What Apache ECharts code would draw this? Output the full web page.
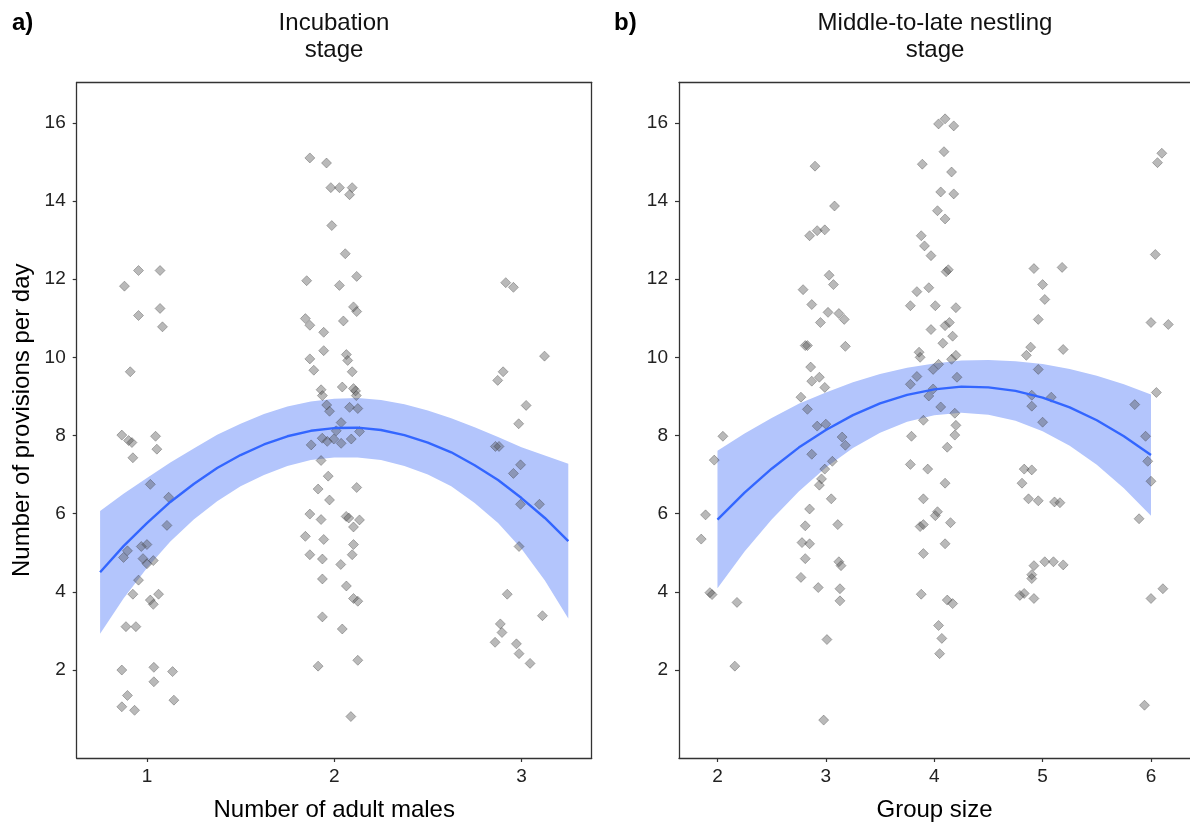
<!DOCTYPE html>
<html>
<head>
<meta charset="utf-8">
<script src="https://cdn.jsdelivr.net/npm/echarts@6/dist/echarts.min.js"></script>
<style>
  html, body { margin: 0; padding: 0; background: #fff; }
  #chart { width: 1190px; height: 827px; }
</style>
</head>
<body>
<div id="chart"></div>
<script>
// Tick values shared by the two panels
const yTicks = [2, 4, 6, 8, 10, 12, 14, 16];
const xTicksA = [1, 2, 3];
const xTicksB = [2, 3, 4, 5, 6];

// Panel a) observations: [number of adult males (jittered), provisions per day]
const incubationPoints = [
  [0.955,12.22],[1.070,12.22],[0.880,11.82],[0.955,11.07],[1.070,11.25],[1.083,10.78],[0.911,9.63],
  [0.866,8.01],[0.902,7.87],[0.920,7.82],[1.046,7.98],[1.053,7.65],[0.925,7.43],[1.018,6.75],[1.116,6.42],
  [1.107,5.70],[0.896,5.05],[0.875,4.88],[0.970,5.16],[1.000,5.21],[0.979,4.85],[1.000,4.72],[1.034,4.80],
  [0.955,4.30],[0.925,3.94],[1.018,3.79],[1.034,3.68],[1.062,3.94],[0.888,3.11],[0.941,3.11],[0.866,2.00],
  [1.037,2.07],[1.037,1.70],[1.137,1.96],[0.896,1.35],[0.866,1.06],[0.934,0.97],[1.144,1.23],
  [1.870,15.10],[1.959,14.97],[1.982,14.34],[1.987,13.37],[1.853,11.96],[1.846,10.99],[1.870,10.82],
  [1.944,10.64],[1.944,10.17],[1.870,9.96],[1.891,9.67],[1.930,9.17],[1.937,9.02],[1.960,8.78],[1.975,8.62],
  [2.028,14.34],[2.096,14.34],[2.082,14.16],[2.059,12.65],[2.120,12.07],[2.028,11.84],[2.103,11.29],
  [2.120,11.17],[2.049,10.93],[2.065,10.07],[2.072,9.92],[2.096,9.63],[2.043,9.24],[2.103,9.20],[2.114,9.14],
  [2.118,9.02],[2.082,8.72],[2.126,8.69],[2.037,8.33],
  [1.877,7.76],[1.936,7.93],[1.963,7.85],[1.998,7.91],[1.930,7.36],[1.968,6.96],[1.914,6.63],[1.975,6.35],
  [1.870,5.99],[1.930,5.85],[1.846,5.42],[1.944,5.34],[1.870,4.95],[1.937,4.84],[1.937,4.33],[1.937,3.36],
  [1.914,2.10],[2.011,8.12],[2.037,7.80],[2.091,7.91],[2.135,8.10],[2.120,6.67],[2.064,5.93],[2.078,5.89],
  [2.135,5.84],[2.103,5.66],[2.103,5.21],[2.096,4.95],[2.035,4.70],[2.065,4.15],[2.103,3.83],[2.126,3.76],
  [2.043,3.05],[2.126,2.25],[2.089,0.81],
  [2.916,11.91],[2.957,11.79],[3.123,10.03],[2.902,9.63],[2.873,9.41],[3.025,8.77],[2.985,8.30],[2.861,7.72],
  [2.880,7.72],[2.995,7.25],[2.957,7.03],[3.096,6.24],[2.995,6.24],[2.987,5.16],[2.924,3.94],[3.112,3.39],
  [2.887,3.18],[2.896,2.96],[2.859,2.71],[2.973,2.67],[2.987,2.42],[3.046,2.17]
];

// Panel b) observations: [group size (jittered), provisions per day]
const nestlingPoints = [
  [1.85,5.35],[1.89,5.97],[1.95,3.93],[1.93,3.98],[1.97,7.37],[2.05,7.98],[2.16,2.10],[2.18,3.73],
  [2.90,14.89],[3.08,13.87],[2.85,13.11],[2.92,13.24],[2.99,13.26],[2.79,11.73],[2.87,11.35],[3.03,12.10],
  [3.07,11.86],[3.02,11.15],[3.12,11.12],[3.17,10.97],[2.95,10.89],[2.83,10.30],[2.81,10.30],[3.18,10.28],
  [2.86,9.75],[2.87,9.39],[2.94,9.49],[2.99,9.23],[2.77,8.98],[2.83,8.67],[2.92,8.24],[3.00,8.29],
  [3.15,7.96],[2.87,7.52],[2.99,7.14],[3.06,7.34],[3.18,7.75],[2.96,6.89],[2.94,6.73],[2.85,6.12],
  [3.05,6.38],[3.11,5.72],[2.81,5.69],[2.78,5.26],[2.85,5.23],[2.81,4.85],[3.12,4.77],[3.14,4.67],
  [2.77,4.37],[2.93,4.11],[3.13,4.08],[3.13,3.77],[3.01,2.78],[2.98,0.72],
  [4.04,15.97],[4.10,16.10],[4.18,15.92],[4.09,15.26],[3.89,14.94],[4.16,14.74],[4.06,14.23],[4.18,14.18],
  [4.03,13.75],[4.10,13.54],[3.88,13.11],[3.91,12.85],[3.97,12.60],[4.13,12.24],[4.11,12.19],[3.95,11.78],
  [3.84,11.68],[4.01,11.32],[3.78,11.32],[4.20,11.27],[4.14,10.89],[3.97,10.71],[4.10,10.81],[4.08,10.36],
  [4.17,10.54],[3.86,10.13],[3.87,10.00],[4.04,9.82],[4.16,9.95],[4.20,10.05],[3.99,9.69],[3.84,9.51],
  [4.21,9.49],[3.99,9.19],[3.78,9.31],[3.95,9.01],[4.06,8.73],[4.19,8.57],[3.90,8.39],[4.20,8.26],
  [4.19,8.01],[3.79,7.98],[4.12,7.70],[3.78,7.26],[3.94,7.14],[4.10,6.78],[3.90,6.38],[4.03,6.05],
  [4.01,5.95],[3.87,5.67],[3.90,5.72],[4.15,5.77],[4.10,5.23],[3.90,4.98],[3.88,3.94],[4.12,3.79],
  [4.17,3.70],[4.04,3.14],[4.07,2.81],[4.05,2.42],
  [4.92,12.27],[5.18,12.30],[5.00,11.86],[5.02,11.48],[4.96,10.97],[4.85,10.05],[4.89,10.26],[5.19,10.20],
  [4.96,9.69],[4.90,9.03],[5.08,8.98],[4.90,8.75],[5.00,8.34],[4.83,7.14],[4.90,7.12],[4.81,6.78],
  [4.87,6.38],[4.96,6.33],[5.11,6.30],[5.16,6.28],[4.92,4.67],[5.02,4.77],[5.10,4.77],[5.19,4.69],
  [4.90,4.44],[4.90,4.34],[4.83,3.96],[4.79,3.91],[4.92,3.83],
  [6.10,15.22],[6.06,14.98],[6.04,12.63],[6.00,10.89],[6.16,10.84],[6.05,9.10],[5.85,8.79],[5.95,7.98],
  [5.97,7.34],[6.00,6.83],[5.89,5.87],[6.11,4.08],[6.00,3.83],[5.94,1.10]
];

// Fitted curve and confidence band, panel a)
const fitA_x  = [0.75,0.875,1.0,1.125,1.25,1.375,1.5,1.625,1.75,1.875,2.0,2.125,2.25,2.375,2.5,2.625,2.75,2.875,3.0,3.125,3.25];
const fitA_y  = [4.50,5.17,5.76,6.30,6.76,7.17,7.50,7.77,7.98,8.12,8.19,8.20,8.14,8.01,7.82,7.57,7.24,6.86,6.40,5.89,5.30];
const fitA_lo = [2.93,3.83,4.61,5.29,5.85,6.32,6.70,6.99,7.22,7.37,7.44,7.44,7.37,7.22,7.00,6.70,6.27,5.76,5.10,4.29,3.32];
const fitA_hi = [6.07,6.51,6.91,7.31,7.67,8.02,8.30,8.55,8.74,8.87,8.94,8.96,8.91,8.80,8.64,8.44,8.21,7.96,7.70,7.49,7.28];

// Fitted curve and confidence band, panel b)
const fitB_x  = [2.0,2.25,2.5,2.75,3.0,3.25,3.5,3.75,4.0,4.25,4.5,4.75,5.0,5.25,5.5,5.75,6.0];
const fitB_y  = [5.85,6.54,7.15,7.69,8.14,8.52,8.82,9.04,9.18,9.25,9.23,9.14,8.97,8.72,8.39,7.98,7.50];
const fitB_lo = [4.09,5.03,5.85,6.57,7.18,7.68,8.07,8.35,8.52,8.58,8.53,8.38,8.11,7.74,7.25,6.65,5.95];
const fitB_hi = [7.61,8.05,8.45,8.81,9.10,9.36,9.57,9.73,9.84,9.92,9.93,9.90,9.83,9.70,9.53,9.31,9.05];

const FONT = '"Liberation Sans", Arial, sans-serif';
const zip = (xs, ys) => xs.map((x, i) => [x, ys[i]]);

function bandSeries(idx, xs, lo, hi) {
  return {
    type: 'custom', xAxisIndex: idx, yAxisIndex: idx, silent: true, z: 1,
    data: [[xs[0], lo[0]]],
    renderItem: function (params, api) {
      const pts = [];
      for (let i = 0; i < xs.length; i++) pts.push(api.coord([xs[i], hi[i]]));
      for (let i = xs.length - 1; i >= 0; i--) pts.push(api.coord([xs[i], lo[i]]));
      return { type: 'polygon', shape: { points: pts }, style: { fill: '#b3c5fc' } };
    }
  };
}

function pointSeries(idx, pts) {
  return {
    type: 'scatter', xAxisIndex: idx, yAxisIndex: idx, z: 2, silent: true,
    symbol: 'diamond', symbolSize: 10,
    itemStyle: { color: 'rgba(80,80,80,0.5)', borderColor: 'rgba(40,40,40,0.5)', borderWidth: 0.8 },
    data: pts
  };
}

function fitSeries(idx, xs, ys) {
  return {
    type: 'line', xAxisIndex: idx, yAxisIndex: idx, z: 3, silent: true,
    showSymbol: false, symbol: 'none',
    lineStyle: { color: '#3366ff', width: 2.4 },
    data: zip(xs, ys)
  };
}

const frameLine = { show: true, onZero: false, lineStyle: { color: '#333', width: 1.3 } };
const tickStyle = { show: true, length: 4, lineStyle: { color: '#333', width: 1.2 } };
const labelStyle = { color: '#222', fontSize: 19, fontFamily: FONT };
const nameStyle = { color: '#000', fontSize: 24, fontFamily: FONT };

function xAxis(idx, min, max, ticks, name) {
  return {
    type: 'value', gridIndex: idx, min: min, max: max, position: 'bottom',
    name: name, nameLocation: 'middle', nameGap: 40, nameTextStyle: nameStyle,
    axisLine: frameLine,
    axisTick: Object.assign({ customValues: ticks }, tickStyle),
    axisLabel: Object.assign({ customValues: ticks, margin: 9 }, labelStyle),
    splitLine: { show: false }
  };
}

// Plain line along the top of a panel (closes the frame)
function topFrame(idx, min, max) {
  return {
    type: 'value', gridIndex: idx, min: min, max: max, position: 'top',
    axisLine: frameLine, axisTick: { show: false }, axisLabel: { show: false }, splitLine: { show: false }
  };
}

function yAxis(idx, name, position, labelled) {
  return {
    type: 'value', gridIndex: idx, min: -0.25, max: 17.03, position: position,
    name: name, nameLocation: 'middle', nameGap: 42, nameTextStyle: nameStyle,
    axisLine: frameLine,
    axisTick: labelled ? Object.assign({ customValues: yTicks }, tickStyle) : { show: false },
    axisLabel: labelled ? Object.assign({ customValues: yTicks, margin: 11 }, labelStyle) : { show: false },
    splitLine: { show: false }
  };
}

const chart = echarts.init(document.getElementById('chart'), null, { renderer: 'canvas' });
chart.setOption({
  animation: false,
  backgroundColor: '#fff',
  grid: [
    { left: 76.7, right: 598.3, top: 82.5, bottom: 67.3 },
    { left: 679, right: -4, top: 82.5, bottom: 67.3 }
  ],
  xAxis: [
    xAxis(0, 0.625, 3.375, xTicksA, 'Number of adult males'),
    xAxis(1, 1.645, 6.36, xTicksB, 'Group size'),
    topFrame(0, 0.625, 3.375),
    topFrame(1, 1.645, 6.36)
  ],
  yAxis: [
    yAxis(0, 'Number of provisions per day', 'left', true),
    yAxis(1, '', 'left', true),
    yAxis(0, '', 'right', false)
  ],
  graphic: [
    { type: 'text', x: 12, y: 11, style: { text: 'a)', font: 'bold 24px ' + FONT, fill: '#000' } },
    { type: 'text', x: 614, y: 11, style: { text: 'b)', font: 'bold 24px ' + FONT, fill: '#000' } },
    { type: 'text', x: 334, y: 10, style: { text: 'Incubation\nstage', font: '24px ' + FONT, fill: '#111', align: 'center', lineHeight: 27 } },
    { type: 'text', x: 935, y: 10, style: { text: 'Middle-to-late nestling\nstage', font: '24px ' + FONT, fill: '#111', align: 'center', lineHeight: 27 } }
  ],
  series: [
    bandSeries(0, fitA_x, fitA_lo, fitA_hi),
    pointSeries(0, incubationPoints),
    fitSeries(0, fitA_x, fitA_y),
    bandSeries(1, fitB_x, fitB_lo, fitB_hi),
    pointSeries(1, nestlingPoints),
    fitSeries(1, fitB_x, fitB_y)
  ]
});
</script>
</body>
</html>
